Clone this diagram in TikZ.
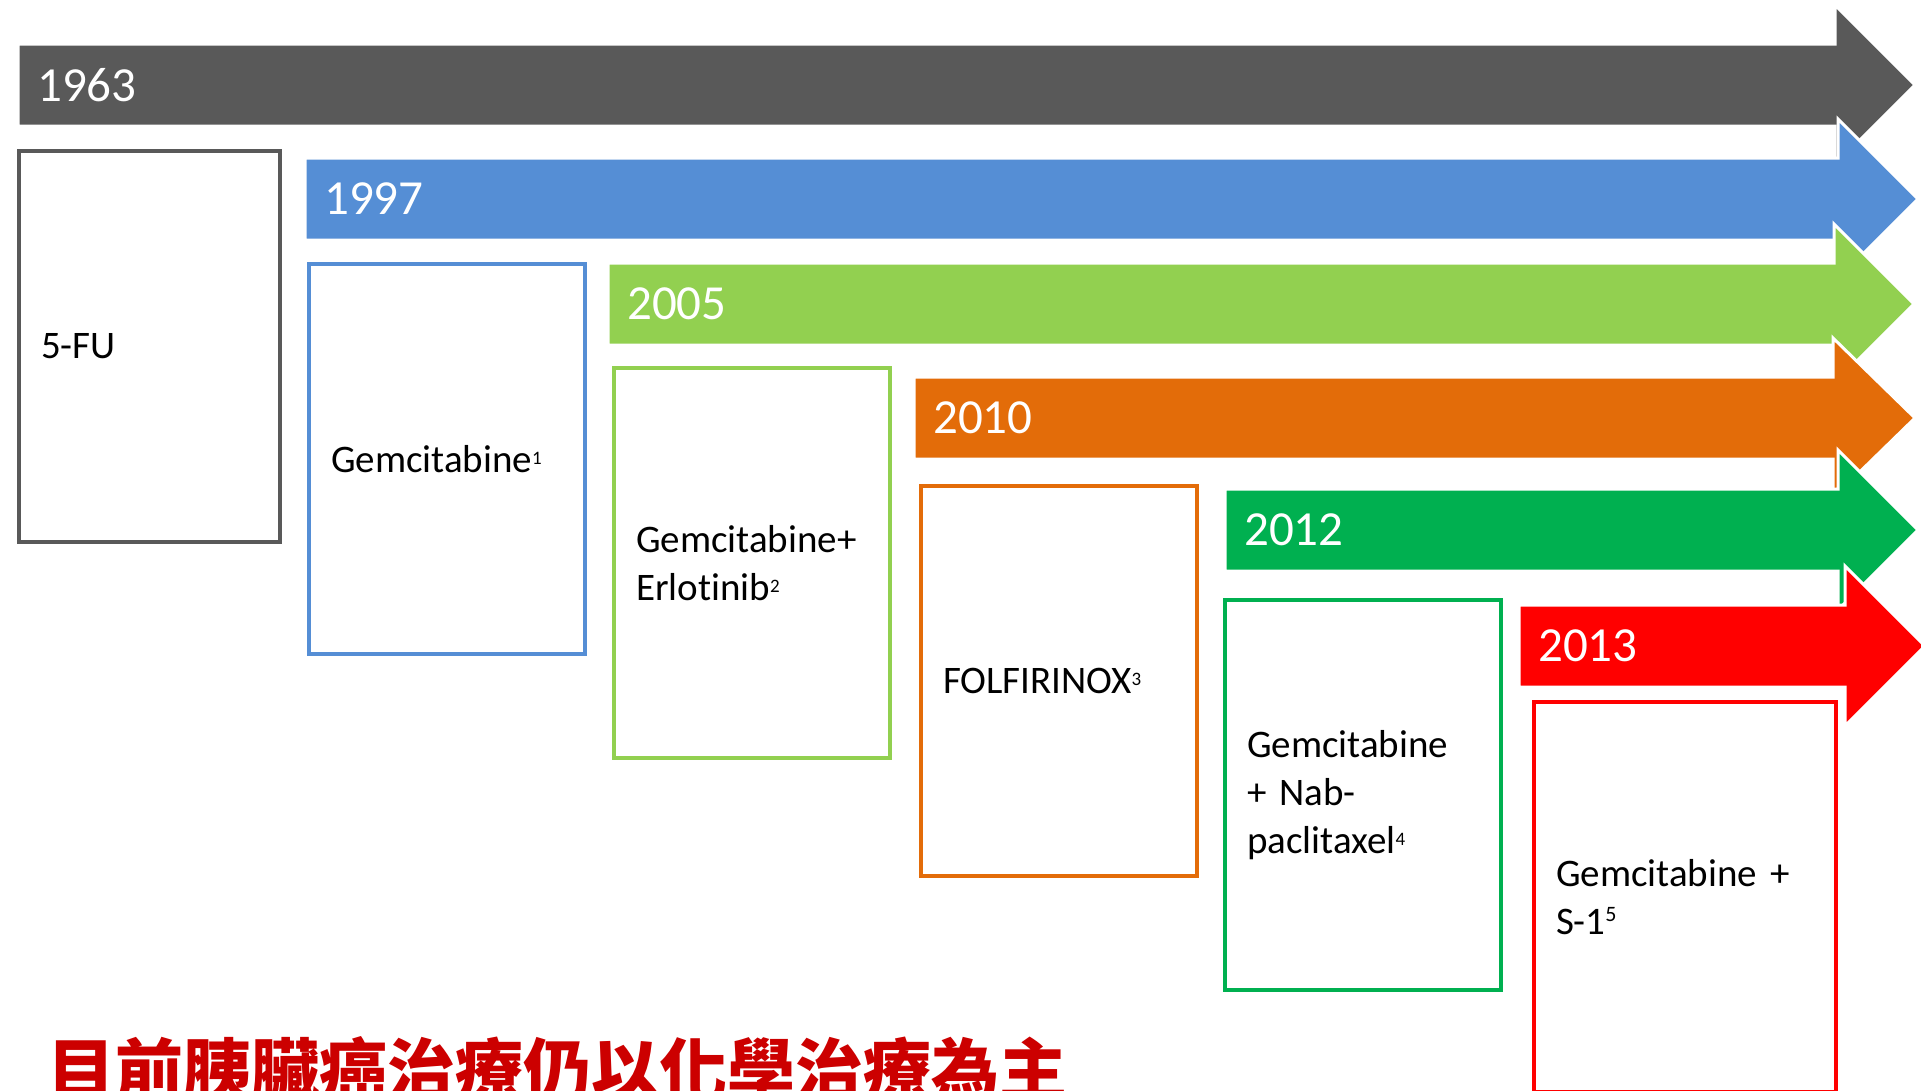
\documentclass[tikz,border=0pt]{standalone}
\usepackage{fontspec}
\setmainfont{Carlito}[Ligatures=NoCommon]
\newfontfamily\cjk{Noto Sans CJK TC}
\definecolor{cgray}{HTML}{595959}
\definecolor{cblue}{HTML}{558ED5}
\definecolor{clgreen}{HTML}{92D050}
\definecolor{corange}{HTML}{E36C09}
\definecolor{cdgreen}{HTML}{00B050}
\definecolor{cred}{HTML}{FF0000}
\definecolor{ctitle}{RGB}{204,0,0}
\newcommand\tsup[1]{\raisebox{8pt}{\fontsize{19}{19}\selectfont #1}}
\newcommand\tlarrow[5]{%
  \fill[#1, draw=white, line width=3pt] (#2,#3-41) -- (#4,#3-41) -- (#4,#3-80) -- (#5,#3) -- (#4,#3+80) -- (#4,#3+41) -- (#2,#3+41) -- cycle;}
\begin{document}
\begin{tikzpicture}[x=1pt,y=-1pt,
  yearlbl/.style={text=white, font=\fontsize{49}{49}\selectfont, anchor=west, inner sep=0pt},
  drugbox/.style={draw=#1, line width=4pt, fill=white, anchor=north west, inner xsep=22pt, inner ysep=0pt, align=left, font=\fontsize{39}{48}\selectfont, text=black, minimum width=276pt, minimum height=390pt, text width=232pt}]
\useasboundingbox (0,0) rectangle (1921,1090);
\clip (0,0) rectangle (1921,1090);
\fill[white] (0,0) rectangle (1921,1090);
% timeline arrows
\tlarrow{cgray}{18}{85}{1835}{1915}
\tlarrow{cblue}{305}{199}{1838}{1918}
\tlarrow{clgreen}{608}{304}{1834}{1914}
\tlarrow{corange}{914}{418}{1833}{1915}
\tlarrow{cdgreen}{1225}{530}{1838}{1918}
\tlarrow{cred}{1519}{646}{1845}{1925}
% year labels
\node[yearlbl] (y1963) at (37,85) {1963};
\node[yearlbl] (y1997) at (324,199) {1997};
\node[yearlbl] (y2005) at (627,304) {2005};
\node[yearlbl] (y2010) at (933,418) {2010};
\node[yearlbl] (y2012) at (1244,530) {2012};
\node[yearlbl] (y2013) at (1538,646) {2013};
% drug boxes
\node[drugbox=cgray, minimum width=261pt, minimum height=391pt, text width=217pt] (fu) at (17,149) {5-FU};
\node[drugbox=cblue] (gem) at (307,262) {Gemcitabine\tsup{1}};
\node[drugbox=clgreen] (erl) at (612,366) {Gemcitabine+\\Erlotinib\tsup{2}};
\node[drugbox=corange] (folf) at (919,484) {FOLFIRINOX\tsup{3}};
\node[drugbox=cdgreen] (nab) at (1223,598) {Gemcitabine\\+ Nab-\\paclitaxel\tsup{4}};
\node[drugbox=cred, minimum width=302pt, text width=258pt] (s1) at (1532,700) {Gemcitabine +\\S-1\raisebox{13pt}{\fontsize{22}{22}\selectfont 5}};
% title
\node[anchor=base west, inner sep=0pt, text=ctitle, font=\cjk\bfseries\fontsize{68}{68}\selectfont] (title) at (47,1095) {目前胰臟癌治療仍以化學治療為主};
\end{tikzpicture}
\end{document}
